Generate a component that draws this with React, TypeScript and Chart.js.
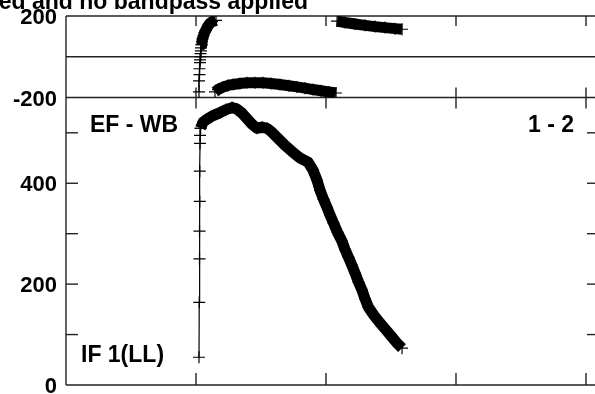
import React, { useEffect, useRef } from 'react';
import { Chart, registerables } from 'chart.js';

Chart.register(...registerables);

const FONT = "'Liberation Sans', Arial, Helvetica, sans-serif";

const TITLE = 'ed and no bandpass applied';
const BASELINE_LABEL = 'EF - WB';
const PAIR_LABEL = '1 - 2';
const IF_LABEL = 'IF 1(LL)';

const X_MIN = 0;
const X_MAX = 4.1;
const X_TICKS = [1, 2, 3, 4];

const PHASE_MIN = -200;
const PHASE_MAX = 200;
const PHASE_TICKS = [-200, 0, 200];
const PHASE_LABELS = [-200, 200];

const AMP_MIN = 0;
const AMP_MAX = 570;
const AMP_TICKS = [0, 100, 200, 300, 400, 500];
const AMP_LABELS = [0, 200, 400];

// Phase: sparse rising channels, then wrapped segments
const phaseRiseX = [1.023, 1.023, 1.027, 1.027, 1.031, 1.031, 1.035, 1.035, 1.038, 1.038, 1.042];
const phaseRiseY = [-172, -118, -88, -59, -29, -15, 0, 15, 29, 44, 59];

const phaseTopX = [1.042, 1.046, 1.05, 1.058, 1.065, 1.077, 1.088, 1.104, 1.123, 1.154];
const phaseTopY = [59, 74, 88, 103, 118, 132, 147, 162, 172, 179];

const phaseArcX = [1.146, 1.169, 1.208, 1.246, 1.285, 1.338, 1.392, 1.454, 1.515, 1.577, 1.646, 1.715, 1.777, 1.838, 1.9, 1.962, 2.023, 2.077];
const phaseArcY = [-172, -161, -149, -141, -136, -131, -128, -127, -128, -131, -136, -142, -148, -154, -161, -167, -173, -178];

const phaseWrapX = [2.085, 2.146, 2.223, 2.3, 2.377, 2.454, 2.531, 2.585];
const phaseWrapY = [175, 168, 161, 154, 148, 143, 138, 135];

// Amplitude: sparse rising channels, then dense band
const ampRiseX = [1.023, 1.025, 1.027, 1.027, 1.029, 1.029, 1.031, 1.031, 1.035];
const ampRiseY = [55, 164, 250, 305, 364, 424, 479, 495, 509];

const ampBandX = [1.035, 1.054, 1.085, 1.123, 1.185, 1.231, 1.277, 1.315, 1.354, 1.392, 1.431, 1.469, 1.508, 1.546, 1.585, 1.631, 1.685, 1.738, 1.8, 1.862, 1.9, 1.931, 1.954, 1.981, 2.008, 2.031, 2.058, 2.088, 2.123, 2.146, 2.173, 2.2, 2.223, 2.25, 2.277, 2.3, 2.327, 2.369, 2.415, 2.462, 2.508, 2.546, 2.585];
const ampBandY = [509, 521, 527, 533, 540, 546, 550, 547, 539, 528, 517, 509, 511, 509, 501, 489, 475, 463, 450, 442, 426, 406, 386, 368, 352, 337, 321, 303, 285, 269, 253, 237, 222, 204, 188, 171, 154, 138, 123, 109, 95, 83, 73];

const pts = (xs: number[], ys: number[]) => xs.map((x, i) => ({ x, y: ys[i] }));

const framePlugin = {
  id: 'frame',
  beforeDatasetsDraw(chart: any) {
    const ctx = chart.ctx;
    const xs = chart.scales.x;
    const yP = chart.scales.yPhase;
    const yA = chart.scales.yAmp;
    const L = xs.getPixelForValue(X_MIN);
    const R = xs.getPixelForValue(X_MAX);
    const top = yP.getPixelForValue(PHASE_MAX);
    const mid = yP.getPixelForValue(PHASE_MIN);
    const zero = yP.getPixelForValue(0);
    const bot = yA.getPixelForValue(AMP_MIN);
    ctx.save();
    ctx.strokeStyle = '#222';
    ctx.lineWidth = 1.4;
    const line = (x1: number, y1: number, x2: number, y2: number) => {
      ctx.beginPath();
      ctx.moveTo(x1, y1);
      ctx.lineTo(x2, y2);
      ctx.stroke();
    };
    line(L, top, R, top);
    line(L, mid, R, mid);
    line(L, bot, R, bot);
    line(L, zero, R, zero);
    line(L, top, L, bot);
    line(R, top, R, bot);
    for (const v of X_TICKS) {
      const px = xs.getPixelForValue(v);
      line(px, top, px, top + 10);
      line(px, mid - 10, px, mid + 11);
      line(px, bot, px, bot - 12);
    }
    for (const v of AMP_TICKS) {
      if (v === AMP_MIN) continue;
      const py = yA.getPixelForValue(v);
      line(L, py, L + 12, py);
      line(R - 12, py, R, py);
    }
    ctx.restore();
  },
  afterDraw(chart: any) {
    const ctx = chart.ctx;
    const xs = chart.scales.x;
    const yP = chart.scales.yPhase;
    const yA = chart.scales.yAmp;
    const L = xs.getPixelForValue(X_MIN);
    const mid = yP.getPixelForValue(PHASE_MIN);
    const bot = yA.getPixelForValue(AMP_MIN);
    ctx.save();
    ctx.fillStyle = '#000';
    ctx.font = `bold 23px ${FONT}`;
    ctx.textBaseline = 'alphabetic';
    ctx.textAlign = 'right';
    ctx.fillText(TITLE, 308, 9);
    ctx.textAlign = 'left';
    ctx.fillText(BASELINE_LABEL, L + 24, mid + 34);
    ctx.fillText(IF_LABEL, L + 15, bot - 23);
    ctx.textAlign = 'right';
    ctx.fillText(PAIR_LABEL, xs.getPixelForValue(X_TICKS[3]) - 12, mid + 34);
    ctx.restore();
  },
};

export default function App() {
  const ref = useRef<HTMLCanvasElement>(null);
  useEffect(() => {
    const canvas = ref.current!;
    const thin = {
      showLine: true,
      borderColor: '#000',
      borderWidth: 1.2,
      pointStyle: 'cross',
      pointRadius: 6,
      pointBorderWidth: 1.2,
      pointBorderColor: '#000',
      pointBackgroundColor: 'transparent',
      tension: 0,
    };
    const band = {
      ...thin,
      borderWidth: 11,
      borderJoinStyle: 'round',
      borderCapStyle: 'butt',
    };
    const chart = new Chart(canvas, {
      type: 'scatter',
      data: {
        datasets: [
          { ...thin, data: pts(phaseRiseX, phaseRiseY), yAxisID: 'yPhase' },
          { ...band, data: pts(phaseTopX, phaseTopY), yAxisID: 'yPhase' },
          { ...band, data: pts(phaseArcX, phaseArcY), yAxisID: 'yPhase' },
          { ...band, data: pts(phaseWrapX, phaseWrapY), yAxisID: 'yPhase' },
          { ...thin, data: pts(ampRiseX, ampRiseY), yAxisID: 'yAmp' },
          { ...band, data: pts(ampBandX, ampBandY), yAxisID: 'yAmp' },
        ] as any,
      },
      options: {
        responsive: false,
        animation: false,
        devicePixelRatio: 1,
        events: [],
        layout: { padding: { top: 16, left: 0, right: 13, bottom: 9 } },
        plugins: {
          legend: { display: false },
          tooltip: { enabled: false },
          title: { display: false },
        },
        scales: {
          x: { type: 'linear', display: false, min: X_MIN, max: X_MAX },
          yAmp: {
            type: 'linear',
            position: 'left',
            stack: 'panels',
            stackWeight: 287.5,
            min: AMP_MIN,
            max: AMP_MAX,
            grid: { display: false, drawTicks: false },
            border: { display: false },
            afterBuildTicks: (s: any) => {
              s.ticks = AMP_TICKS.map((v) => ({ value: v }));
            },
            afterFit: (s: any) => {
              s.width = 66;
              s.paddingTop = 0;
              s.paddingBottom = 0;
            },
            ticks: {
              autoSkip: false,
              padding: 9,
              labelOffset: 2,
              color: '#000',
              font: { family: FONT, size: 22, weight: 'bold' },
              callback: (v: any) => (AMP_LABELS.includes(Number(v)) ? String(v) : ''),
            },
          },
          yPhase: {
            type: 'linear',
            position: 'left',
            stack: 'panels',
            stackWeight: 81.5,
            min: PHASE_MIN,
            max: PHASE_MAX,
            grid: { display: false, drawTicks: false },
            border: { display: false },
            afterBuildTicks: (s: any) => {
              s.ticks = PHASE_TICKS.map((v) => ({ value: v }));
            },
            afterFit: (s: any) => {
              s.width = 66;
              s.paddingTop = 0;
              s.paddingBottom = 0;
            },
            ticks: {
              autoSkip: false,
              padding: 9,
              labelOffset: 2,
              color: '#000',
              font: { family: FONT, size: 22, weight: 'bold' },
              callback: (v: any) => (PHASE_LABELS.includes(Number(v)) ? String(v) : ''),
            },
          },
        },
      } as any,
      plugins: [framePlugin],
    });
    return () => chart.destroy();
  }, []);
  return (
    <div
      style={{
        position: 'fixed',
        left: 0,
        top: 0,
        width: 595,
        height: 394,
        overflow: 'hidden',
        background: '#fff',
      }}
    >
      <canvas ref={ref} width={612} height={394} style={{ display: 'block' }} />
    </div>
  );
}
